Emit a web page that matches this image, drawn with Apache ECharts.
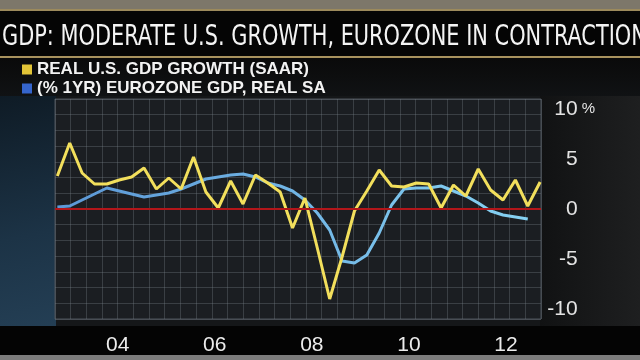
<!DOCTYPE html>
<html>
<head>
<meta charset="utf-8">
<style>
  html, body { margin: 0; padding: 0; background: #141618; }
  #chart { width: 640px; height: 360px; }
</style>
<script src="https://cdn.jsdelivr.net/npm/echarts@6/dist/echarts.min.js"></script>
</head>
<body>
<div id="chart"></div>
<script>
// ---- data ----
const titleText = 'GDP: MODERATE U.S. GROWTH, EUROZONE IN CONTRACTION';
const seriesNames = ['REAL U.S. GDP GROWTH (SAAR)', '(% 1YR) EUROZONE GDP, REAL SA'];
const quarters = [
  '2003Q1','2003Q2','2003Q3','2003Q4','2004Q1','2004Q2','2004Q3','2004Q4',
  '2005Q1','2005Q2','2005Q3','2005Q4','2006Q1','2006Q2','2006Q3','2006Q4',
  '2007Q1','2007Q2','2007Q3','2007Q4','2008Q1','2008Q2','2008Q3','2008Q4',
  '2009Q1','2009Q2','2009Q3','2009Q4','2010Q1','2010Q2','2010Q3','2010Q4',
  '2011Q1','2011Q2','2011Q3','2011Q4','2012Q1','2012Q2','2012Q3','2012Q4'
];
const usGdp = [3.3, 6.6, 3.6, 2.5, 2.5, 2.9, 3.2, 4.1, 2.0, 3.1,
               2.0, 5.2, 1.7, 0.1, 2.8, 0.5, 3.4, 2.6, 1.7, -1.9,
               1.1, -3.9, -9.0, -4.8, -0.2, 1.8, 3.9, 2.3, 2.2, 2.6,
               2.5, 0.1, 2.4, 1.3, 4.0, 1.9, 0.9, 2.9, 0.3, 2.7];
const euGdp = [0.2, 0.3, 0.9, 1.5, 2.1, 1.8, 1.5, 1.2, 1.4, 1.6,
               2.0, 2.5, 3.0, 3.2, 3.4, 3.5, 3.2, 2.6, 2.3, 1.8,
               0.9, -0.4, -2.1, -5.2, -5.4, -4.6, -2.4, 0.4, 2.0, 2.1,
               2.1, 2.3, 1.8, 1.3, 0.6, -0.2, -0.6, -0.8, -1.0, null];
const xTickYears = [2004, 2006, 2008, 2010, 2012];
const xTickLabels = ['04', '06', '08', '10', '12'];
const yTickValues = [-10, -5, 0, 5, 10];
const yTickLabels = ['-10', '-5', '0', '5', '10'];
const yUnit = '%';

// ---- chart ----
const chart = echarts.init(document.getElementById('chart'), null, { renderer: 'canvas' });
const usData = quarters.map((q, i) => [i, usGdp[i]]);
const euData = quarters.map((q, i) => [i, euGdp[i]]);
const labelFont = '"Liberation Sans", Arial, sans-serif';

const option = {
  backgroundColor: '#151719',
  animation: false,
  graphic: [
    { type: 'rect', z: -10, shape: { x: 0, y: 90, width: 56, height: 240 },
      style: { fill: new echarts.graphic.LinearGradient(0, 0, 1, 1, [
        { offset: 0, color: '#0e1a24' }, { offset: 0.6, color: '#1c3346' }, { offset: 1, color: '#243f55' }]) } },
    { type: 'rect', z: -10, shape: { x: 540, y: 90, width: 100, height: 240 },
      style: { fill: new echarts.graphic.LinearGradient(0, 0, 1, 0, [
        { offset: 0, color: '#111213' }, { offset: 1, color: '#1e1f20' }]) } },
    { type: 'rect', z: -10, shape: { x: 0, y: 0, width: 640, height: 9 }, style: { fill: '#7d776a' } },
    { type: 'rect', z: -10, shape: { x: 0, y: 9, width: 640, height: 49 }, style: { fill: '#050505' } },
    { type: 'rect', z: -9, shape: { x: 0, y: 9, width: 640, height: 2 }, style: { fill: '#9c8a5c' } },
    { type: 'rect', z: -9, shape: { x: 0, y: 56, width: 640, height: 2 }, style: { fill: '#a8925e' } },
    { type: 'rect', z: -10, shape: { x: 0, y: 58, width: 640, height: 38 },
      style: { fill: new echarts.graphic.LinearGradient(0, 0, 0, 1, [
        { offset: 0, color: '#0a0a0a' }, { offset: 1, color: '#101214' }]) } },
    { type: 'rect', z: -10, shape: { x: 0, y: 326, width: 640, height: 29 }, style: { fill: '#040404' } },
    { type: 'rect', z: -10, shape: { x: 0, y: 355, width: 640, height: 5 }, style: { fill: '#7c7c7c' } },
    { // chart title (condensed)
      type: 'text', z: 10, x: 2, y: 37, scaleX: 0.8, scaleY: 1,
      style: {
        text: titleText,
        fill: '#f4f4f4',
        font: 'normal 29px "DejaVu Sans Condensed", sans-serif',
        textAlign: 'left',
        textVerticalAlign: 'middle'
      }
    }
  ],
  legend: {
    orient: 'vertical',
    left: 17,
    top: 56,
    itemWidth: 10,
    itemHeight: 10,
    itemGap: 2,
    icon: 'rect',
    selectedMode: false,
    data: [
      { name: seriesNames[0], itemStyle: { color: '#e2c437' } },
      { name: seriesNames[1], itemStyle: { color: '#3565cc' } }
    ],
    textStyle: {
      color: '#f2f2f2',
      fontFamily: labelFont,
      fontWeight: 'bold',
      fontSize: 17,
      lineHeight: 17,
      padding: [0, 0, 0, 0]
    }
  },
  grid: {
    left: 55, right: 99, top: 99, bottom: 41,
    show: true,
    backgroundColor: '#1b1e22',
    borderColor: '#4c535b',
    borderWidth: 1
  },
  xAxis: [
    { // data axis (quarter index)
      type: 'value', min: -0.19, max: 39.07,
      show: false
    },
    { // year label axis
      type: 'value', min: 2002.71, max: 2012.72, position: 'bottom',
      axisLine: { show: false }, axisTick: { show: false }, splitLine: { show: false },
      axisLabel: {
        customValues: xTickYears,
        formatter: v => xTickLabels[xTickYears.indexOf(v)],
        color: '#ececec', fontFamily: labelFont, fontSize: 21, margin: 16
      }
    },
    { // vertical grid lines
      type: 'value', min: 0, max: 31, interval: 1, position: 'top',
      axisLine: { show: false }, axisTick: { show: false }, axisLabel: { show: false },
      splitLine: { show: true, lineStyle: { color: 'rgba(120,130,140,0.33)', width: 1 } }
    }
  ],
  yAxis: [
    {
      type: 'value', min: -11, max: 11, position: 'right',
      axisLine: { show: false }, axisTick: { show: false }, splitLine: { show: false },
      axisLabel: {
        customValues: yTickValues,
        align: 'right',
        margin: 54,
        formatter: v => {
          const t = yTickLabels[yTickValues.indexOf(v)];
          return v === 10 ? t + '{u|' + yUnit + '}' : t + '{h|' + yUnit + '}';
        },
        color: '#e4e4e4', fontFamily: labelFont, fontSize: 21,
        rich: {
          u: { color: '#e4e4e4', fontFamily: labelFont, fontSize: 15, padding: [0, 0, 0, 4] },
          h: { color: 'rgba(0,0,0,0)', fontFamily: labelFont, fontSize: 15, padding: [0, 0, 0, 4] }
        }
      }
    },
    { // horizontal grid lines
      type: 'value', min: -7, max: 7, interval: 1, position: 'left',
      axisLine: { show: false }, axisTick: { show: false }, axisLabel: { show: false },
      splitLine: { show: true, lineStyle: { color: 'rgba(120,130,140,0.33)', width: 1 } }
    }
  ],
  series: [
    {
      name: 'zero', type: 'line', xAxisIndex: 0, yAxisIndex: 0, data: [], z: 1,
      silent: true,
      markLine: {
        silent: true, symbol: 'none', label: { show: false },
        lineStyle: { color: '#b3161a', width: 2, type: 'solid' },
        data: [{ yAxis: 0 }]
      }
    },
    {
      name: seriesNames[1], type: 'line', xAxisIndex: 0, yAxisIndex: 0, z: 3,
      data: euData, showSymbol: false, symbol: 'none',
      lineStyle: {
        width: 3,
        color: new echarts.graphic.LinearGradient(0, 0, 1, 0, [
          { offset: 0, color: '#5b97d6' }, { offset: 1, color: '#86d2f3' }])
      },
      itemStyle: { color: '#6fb3e6' }
    },
    {
      name: seriesNames[0], type: 'line', xAxisIndex: 0, yAxisIndex: 0, z: 4,
      data: usData, showSymbol: false, symbol: 'none',
      lineStyle: { width: 3, color: '#f2df5c' },
      itemStyle: { color: '#f2df5c' }
    }
  ]
};
chart.setOption(option);
</script>
</body>
</html>
